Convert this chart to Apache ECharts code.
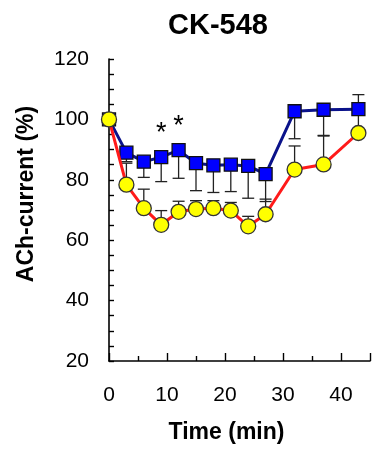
<!DOCTYPE html>
<html>
<head>
<meta charset="utf-8">
<script src="https://cdn.jsdelivr.net/npm/echarts@6.0.0/dist/echarts.min.js"></script>
<style>
  html, body { margin: 0; padding: 0; background: #fff; }
  #chart-1 { width: 373px; height: 449px; }
</style>
</head>
<body>
<div id="chart-1"></div>
<script>
// time points (min)
var times = [0, 3, 6, 9, 12, 15, 18, 21, 24, 27, 32, 37, 43];
// squares (blue) and their lower error ends
var squareVals = [100, 89, 86, 87.5, 89.8, 85.5, 84.8, 85, 84.6, 81.9, 102.7, 103.2, 103.4];
var squareLow = [null, 86, 80.8, 79.4, 80.5, 76.4, 75.8, 76.1, 73.9, 72.8, 93.6, 94.7, null];
// circles (yellow) and their upper error ends
var circleVals = [100, 78.4, 70.6, 65.1, 69.4, 70.3, 70.6, 69.8, 64.6, 68.6, 83.4, 85.1, 95.5];
var circleHigh = [null, 85.5, 76.9, 69.8, 72.9, 73.1, 73.1, 72.5, 67.9, 73.6, 91.2, 94.5, 108.2];
// time points marked with *
var starTimes = [9, 12];

var FONT = '"Liberation Sans", Arial, sans-serif';

function pairs(xs, ys) {
    var out = [];
    for (var i = 0; i < xs.length; i++) {
        out.push([xs[i], ys[i]]);
    }
    return out;
}

function errData(xs, ys, ends) {
    var out = [];
    for (var i = 0; i < xs.length; i++) {
        if (ends[i] == null) continue;
        out.push([xs[i], ys[i], ends[i]]);
    }
    return out;
}

function renderErr(params, api) {
    var p0 = api.coord([api.value(0), api.value(1)]);
    var p1 = api.coord([api.value(0), api.value(2)]);
    var half = 6;
    var style = { stroke: '#222', lineWidth: 1.3 };
    return {
        type: 'group',
        children: [
            { type: 'line', shape: { x1: p0[0], y1: p0[1], x2: p1[0], y2: p1[1] }, style: style },
            { type: 'line', shape: { x1: p1[0] - half, y1: p1[1], x2: p1[0] + half, y2: p1[1] }, style: style }
        ]
    };
}

var squareData = pairs(times, squareVals).map(function (d) {
    if (starTimes.indexOf(d[0]) >= 0) {
        return {
            value: d,
            label: {
                show: true, position: 'top', distance: 3, formatter: '*',
                color: '#000', fontSize: 27, fontFamily: FONT
            }
        };
    }
    return d;
});

MapContainer = document.getElementById('chart-1');
myChart = echarts.init(MapContainer);

option = {
    backgroundColor: '#fff',
    animation: false,
    title: {
        text: 'CK-548',
        left: 213,
        top: 6,
        textAlign: 'center',
        textStyle: { fontSize: 29, fontWeight: 'bold', color: '#000', fontFamily: FONT }
    },
    grid: { left: 109, top: 59, width: 269, height: 304 },
    xAxis: {
        type: 'value',
        min: 0,
        max: 45,
        interval: 10,
        name: 'Time (min)',
        nameLocation: 'middle',
        nameGap: 60,
        nameTextStyle: { fontSize: 23, fontWeight: 'bold', color: '#000', fontFamily: FONT, padding: [0, 26, 0, 0] },
        axisLine: { lineStyle: { color: '#000', width: 1.6 } },
        axisTick: { inside: true, length: 8, lineStyle: { color: '#000', width: 1.4 } },
        minorTick: { show: true, splitNumber: 2, length: 5, lineStyle: { color: '#000', width: 1.4 } },
        axisLabel: {
            margin: 24, fontSize: 21, color: '#000', fontFamily: FONT,
            formatter: function (v) { return v <= 40 ? String(v) : ''; }
        },
        splitLine: { show: false }
    },
    yAxis: {
        type: 'value',
        min: 20,
        max: 120,
        interval: 20,
        name: 'ACh-current (%)',
        nameLocation: 'middle',
        nameGap: 71,
        nameTextStyle: { fontSize: 23, fontWeight: 'bold', color: '#000', fontFamily: FONT, padding: [0, 0, 0, 32] },
        axisLine: { show: true, lineStyle: { color: '#000', width: 1.6 } },
        axisTick: { show: true, inside: true, length: 5, lineStyle: { color: '#000', width: 1.4 } },
        minorTick: { show: true, splitNumber: 4, length: 5, lineStyle: { color: '#000', width: 1.4 } },
        axisLabel: { margin: 20, fontSize: 21, color: '#000', fontFamily: FONT },
        splitLine: { show: false }
    },
    series: [
        {
            name: 'squareErr',
            type: 'custom',
            renderItem: renderErr,
            data: errData(times, squareVals, squareLow),
            encode: { x: 0, y: [1, 2] },
            z: 1,
            silent: true
        },
        {
            name: 'circleErr',
            type: 'custom',
            renderItem: renderErr,
            data: errData(times, circleVals, circleHigh),
            encode: { x: 0, y: [1, 2] },
            z: 1,
            silent: true
        },
        {
            name: 'squares',
            type: 'line',
            data: squareData,
            symbol: 'rect',
            symbolSize: 13,
            z: 3,
            lineStyle: { color: '#0a128a', width: 3 },
            itemStyle: { color: '#0000ff', borderColor: '#111', borderWidth: 1.3 }
        },
        {
            name: 'circles',
            type: 'line',
            data: pairs(times, circleVals),
            symbol: 'circle',
            symbolSize: 15,
            z: 4,
            lineStyle: { color: '#ff1a1a', width: 3 },
            itemStyle: { color: '#ffff00', borderColor: '#333', borderWidth: 1.3 }
        }
    ]
};

myChart.setOption(option);
</script>
</body>
</html>
